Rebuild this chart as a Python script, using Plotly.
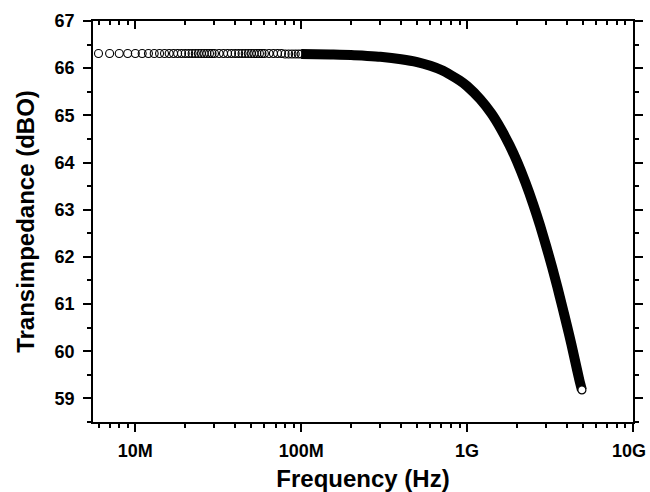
import math
import plotly.graph_objects as go

# ---- data (frequency in MHz, transimpedance in dBOhm) ----
flat_freq_mhz = [6, 7, 8, 9, 10, 11, 12, 13, 14, 15, 16, 17, 18, 19, 20, 21, 22, 23, 24, 25,
                 26, 27, 28, 29, 30, 32, 34, 36, 38, 40, 42, 44, 46, 48, 50, 52, 54, 56, 58, 60,
                 64, 68, 72, 76, 80, 84, 88, 92, 96, 100]
flat_tz = [66.31, 66.31, 66.31, 66.31, 66.31, 66.31, 66.31, 66.31, 66.31, 66.31,
           66.31, 66.31, 66.31, 66.31, 66.31, 66.31, 66.31, 66.31, 66.31, 66.31,
           66.31, 66.31, 66.31, 66.31, 66.31, 66.31, 66.31, 66.31, 66.31, 66.31,
           66.31, 66.31, 66.31, 66.31, 66.31, 66.31, 66.31, 66.31, 66.31, 66.31,
           66.31, 66.31, 66.31, 66.31, 66.30, 66.30, 66.30, 66.30, 66.30, 66.30]

band_freq_mhz = [100, 150, 200, 250, 300, 400, 500, 600, 700, 800, 900, 1000, 1200, 1400,
                 1600, 1800, 2000, 2250, 2500, 2750, 3000, 3250, 3500, 3750, 4000, 4250,
                 4500, 4750, 4920]
band_tz = [66.30, 66.29, 66.28, 66.26, 66.24, 66.19, 66.13, 66.05, 65.96, 65.85, 65.74,
           65.62, 65.34, 65.04, 64.71, 64.37, 64.02, 63.57, 63.12, 62.67, 62.22, 61.79,
           61.36, 60.94, 60.54, 60.15, 59.76, 59.39, 59.18]

x_tick_vals = [1e7, 1e8, 1e9, 1e10]
x_tick_text = ["10M", "100M", "1G", "10G"]
y_tick_vals = [59, 60, 61, 62, 63, 64, 65, 66, 67]

MHZ = 1e6
flat_freq = [f * MHZ for f in flat_freq_mhz]
band_freq = [f * MHZ for f in band_freq_mhz]

minor_x = [m * 10 ** e for e in range(6, 10) for m in range(2, 10)]

FONT = "Liberation Sans, Arial, sans-serif"

fig = go.Figure()

# dense part of the sweep: overlapping open circles merge into a solid band
fig.add_trace(go.Scatter(
    x=band_freq, y=band_tz, mode="lines",
    line=dict(color="black", width=10, shape="spline", smoothing=0.6),
    hoverinfo="skip", showlegend=False))

# sparse part: individual open circles
fig.add_trace(go.Scatter(
    x=flat_freq, y=flat_tz, mode="markers",
    marker=dict(symbol="circle-open", size=8, color="black", line=dict(width=1.1)),
    showlegend=False))

# last sweep point, visible as a white circle at the end of the band
fig.add_trace(go.Scatter(
    x=band_freq[-1:], y=band_tz[-1:], mode="markers",
    marker=dict(symbol="circle", size=8, color="white", line=dict(color="black", width=1.2)),
    showlegend=False))

# invisible trace so the top (inside-tick) axis is drawn
fig.add_trace(go.Scatter(
    x=flat_freq[:1], y=flat_tz[:1], mode="markers", xaxis="x2",
    marker=dict(opacity=0), hoverinfo="skip", showlegend=False))

tick_font = dict(family=FONT, size=18, color="black", weight="bold")
title_font = dict(family=FONT, size=24, color="black", weight="bold")

# the last tick label sits at the right page edge: draw it as an annotation so it fits
shown_text = x_tick_text[:-1] + [""]
fig.add_annotation(
    x=math.log10(x_tick_vals[-1]), xref="x", y=0, yref="paper",
    text=x_tick_text[-1], showarrow=False, font=tick_font,
    xanchor="right", xshift=15, yanchor="middle", yshift=-29,
)

fig.update_layout(
    width=650, height=492,
    margin=dict(l=93, r=17, t=21, b=70),
    paper_bgcolor="white", plot_bgcolor="white",
    showlegend=False,
    xaxis=dict(
        type="log", range=[6.745, 10.0], automargin=False,
        tickmode="array", tickvals=x_tick_vals, ticktext=shown_text,
        ticks="outside", ticklen=8, tickwidth=1.5, tickcolor="black",
        ticklabelstandoff=4,
        minor=dict(tickmode="array", tickvals=minor_x, ticks="outside",
                   ticklen=4, tickwidth=1.5, tickcolor="black"),
        showline=True, linecolor="black", linewidth=1.5, mirror=True,
        showgrid=False, zeroline=False,
        tickfont=tick_font,
        title=dict(text="Frequency (Hz)", font=title_font, standoff=10),
    ),
    xaxis2=dict(
        type="log", range=[6.745, 10.0], overlaying="x", side="top", automargin=False,
        tickmode="array", tickvals=x_tick_vals, ticktext=["", "", "", ""],
        ticks="inside", ticklen=8, tickwidth=1.5, tickcolor="black",
        minor=dict(tickmode="array", tickvals=minor_x, ticks="inside",
                   ticklen=4, tickwidth=1.5, tickcolor="black"),
        showline=False, showgrid=False, zeroline=False, showticklabels=False,
    ),
    yaxis=dict(
        range=[58.5, 67.0], automargin=False,
        tickmode="array", tickvals=y_tick_vals,
        ticks="outside", ticklen=8, tickwidth=1.5, tickcolor="black",
        ticklabelstandoff=5,
        minor=dict(dtick=0.5, ticks="outside", ticklen=4, tickwidth=1.5, tickcolor="black"),
        showline=True, linecolor="black", linewidth=1.5, mirror="ticks",
        showgrid=False, zeroline=False,
        tickfont=tick_font,
        title=dict(text="Transimpedance (dBO)", font=title_font, standoff=13),
    ),
)

fig.write_html(
    "out.html",
    config={"displayModeBar": False},
    post_script="document.body.style.margin='0px';document.body.style.overflow='hidden';",
)
